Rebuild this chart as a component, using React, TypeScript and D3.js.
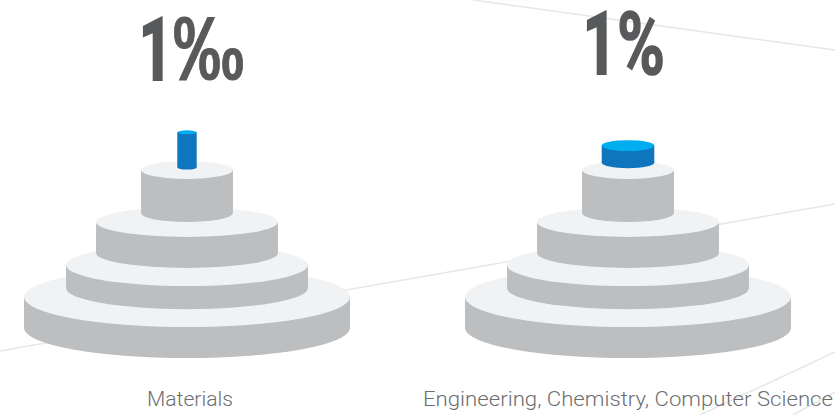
import React from "react";
import * as d3 from "d3";

// Share of publications per field group
const fieldLabels = ["Materials", "Engineering, Chemistry, Computer Science"];
const shareValues = [0.001, 0.01];
const shareDigits = ["1", "1"];
const shareSigns = ["‰", "%"];

// Pedestal tiers, base first, in abstract chart units
const tierSpans = [100, 74.2, 55.8, 28.2];
const tierDepths = [18.4, 12.9, 9.2, 5.5];
const tierTops = [13.6, 27.6, 46.5, 69.3];
const tierFloors = [0, 17.5, 32.9, 50.4];

// Faint rules running behind the pedestals, in chart units
const ruleStarts = [[0, 351], [473, 0], [700, 415], [793, 415]];
const ruleEnds = [[835, 204], [835, 50], [835, 352], [835, 392]];

const WIDTH = 835;
const HEIGHT = 415;

const xBand = d3.scalePoint<string>().domain(fieldLabels).range([187, 628]);
const spanScale = d3.scaleLinear().domain([0, 100]).range([0, 163]);
const levelScale = d3.scaleLinear().domain([0, 100]).range([328, 100]);

// The highlighted cylinder narrows and grows taller as the share falls
const cylRadius = d3.scaleLog().domain([0.001, 0.01]).range([9.7, 26.3]);
const cylTop = d3.scaleLog().domain([0.001, 0.01]).range([132.3, 145.6]);
const cylFloor = d3.scaleLog().domain([0.001, 0.01]).range([167.6, 162.7]);
const CYL_TILT = 0.207;

function Cylinder(props: {
  cx: number;
  rx: number;
  ry: number;
  top: number;
  floor: number;
  wall: string;
  cap: string;
}) {
  const { cx, rx, ry, top, floor, wall, cap } = props;
  return (
    <g>
      <ellipse cx={cx} cy={floor} rx={rx} ry={ry} fill={wall} />
      <rect x={cx - rx} y={top} width={rx * 2} height={floor - top} fill={wall} />
      <ellipse cx={cx} cy={top} rx={rx} ry={ry} fill={cap} />
    </g>
  );
}

export default function App() {
  return (
    <svg
      width={WIDTH}
      height={HEIGHT}
      viewBox={`0 0 ${WIDTH} ${HEIGHT}`}
      style={{ position: "absolute", left: 0, top: 0, background: "#fff" }}
    >
      {ruleStarts.map((s, i) => (
        <line
          key={i}
          x1={s[0]}
          y1={s[1]}
          x2={ruleEnds[i][0]}
          y2={ruleEnds[i][1]}
          stroke="#e6e7e8"
          strokeWidth={1.5}
        />
      ))}
      {fieldLabels.map((label, i) => {
        const cx = xBand(label) as number;
        const share = shareValues[i];
        const r = cylRadius(share);
        const isLeft = i === 0;
        const baseline = isLeft ? 81 : 74.5;
        return (
          <g key={label}>
            {tierSpans.map((span, t) => (
              <Cylinder
                key={t}
                cx={cx}
                rx={spanScale(span)}
                ry={spanScale(tierDepths[t])}
                top={levelScale(tierTops[t])}
                floor={levelScale(tierFloors[t])}
                wall="#bcbec0"
                cap="#f1f2f4"
              />
            ))}
            <Cylinder
              cx={cx}
              rx={r}
              ry={r * CYL_TILT}
              top={cylTop(share)}
              floor={cylFloor(share)}
              wall="#0f75bc"
              cap="#00aeef"
            />
            <text
              x={isLeft ? 138 : 582}
              y={baseline}
              textLength={35}
              lengthAdjust="spacingAndGlyphs"
              fontFamily="Roboto, sans-serif"
              fontWeight={900}
              fontSize={91}
              fill="#58595b"
            >
              {shareDigits[i]}
            </text>
            <text
              x={isLeft ? 173 : 617}
              y={baseline - (isLeft ? 1.5 : 1)}
              textLength={isLeft ? 71 : 48}
              lengthAdjust="spacingAndGlyphs"
              fontFamily={isLeft ? "'Liberation Sans', sans-serif" : "Roboto, sans-serif"}
              fontWeight={700}
              fontSize={isLeft ? 90 : 87}
              fill="#58595b"
              stroke="#58595b"
              strokeWidth={isLeft ? 1 : 1.5}
            >
              {shareSigns[i]}
            </text>
            <text
              x={cx + (isLeft ? 3 : 0)}
              y={406}
              textAnchor="middle"
              textLength={isLeft ? 86 : 410}
              lengthAdjust="spacingAndGlyphs"
              fontFamily="Roboto, sans-serif"
              fontWeight={300}
              fontSize={21}
              fill="#6d6e71"
            >
              {label}
            </text>
          </g>
        );
      })}
    </svg>
  );
}
